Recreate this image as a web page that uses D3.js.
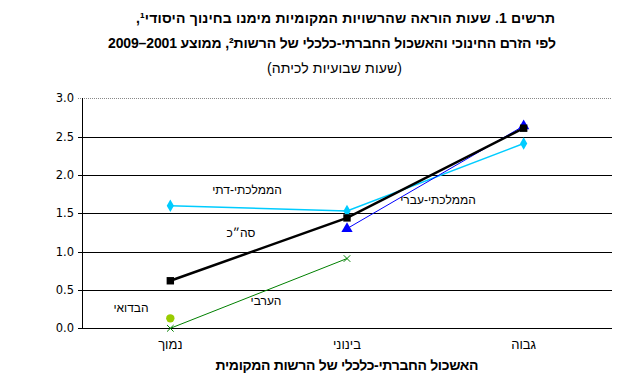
<!DOCTYPE html>
<html><head><meta charset="utf-8">
<script src="https://cdn.jsdelivr.net/npm/d3@7"></script>
<style>body{margin:0;background:#fff}svg{display:block}</style>
</head><body>
<svg id="c" width="635" height="381"></svg>
<script>
const categories = ["נמוך", "בינוני", "גבוה"];
const yTicks = [0, 0.5, 1.0, 1.5, 2.0, 2.5, 3.0];
const seriesNames = ["הממלכתי-דתי", "סה״כ", "הממלכתי-עברי", "הערבי", "הבדואי"];
const dati   = [1.60, 1.53, 2.41];
const total  = [0.62, 1.44, 2.61];
const ivri   = [null, 1.30, 2.64];
const aravi  = [0.00, 0.91, null];
const bedui  = [0.13, null, null];
const titleLines = [
  "תרשים 1. שעות הוראה שהרשויות המקומיות מימנו בחינוך היסודי¹,",
  "לפי הזרם החינוכי והאשכול החברתי-כלכלי של הרשות², ממוצע 2001–2009",
  "(שעות שבועיות לכיתה)"
];
const xTitle = "האשכול החברתי-כלכלי של הרשות המקומית";

const svg = d3.select("#c");
const L = 82, R = 612, T = 98.3, B = 328.3;
const x = d3.scalePoint().domain(categories).range([L, R]).padding(0.5);
const y = d3.scaleLinear().domain([0, 3]).range([B, T]);
const FF = "Liberation Sans, Arial, sans-serif";

// title
const tt = svg.append("g").attr("font-family", FF).attr("direction", "rtl").attr("text-anchor", "middle");
tt.append("text").attr("x", 345.5).attr("y", 23).attr("font-weight", "bold").attr("font-size", 14)
  .attr("textLength", 419).attr("lengthAdjust", "spacing").text(titleLines[0]);
tt.append("text").attr("x", 332).attr("y", 48).attr("font-weight", "bold").attr("font-size", 14)
  .attr("textLength", 448).attr("lengthAdjust", "spacing").text(titleLines[1]);
tt.append("text").attr("x", 334.5).attr("y", 73).attr("font-size", 14)
  .attr("textLength", 135).attr("lengthAdjust", "spacing").text(titleLines[2]);

// gridlines
const g = svg.append("g").attr("shape-rendering", "crispEdges");
g.selectAll("line.grid").data(yTicks).join("line")
  .attr("x1", L - 4).attr("x2", R).attr("y1", d => Math.round(y(d)) + 0.5).attr("y2", d => Math.round(y(d)) + 0.5)
  .attr("stroke", d => d === 3 ? "#888" : "#000")
  .attr("stroke-dasharray", d => d === 3 ? "1,1" : null)
  .attr("stroke-width", 1);
g.append("line").attr("x1", L + 0.5).attr("x2", L + 0.5).attr("y1", Math.round(T)).attr("y2", Math.round(B) + 1).attr("stroke", "#000");

// y tick labels
svg.append("g").selectAll("text").data(yTicks).join("text")
  .attr("x", L - 8).attr("y", d => y(d) + 4)
  .attr("text-anchor", "end").attr("font-family", "DejaVu Sans, sans-serif").attr("font-size", 11.5)
  .text(d => d3.format(".1f")(d));

// x category labels
svg.append("g").selectAll("text").data(categories).join("text")
  .attr("x", d => x(d)).attr("y", 349).attr("text-anchor", "middle").attr("direction", "rtl")
  .attr("font-family", FF).attr("font-size", 13)
  .text(d => d);
svg.append("text").attr("x", 347).attr("y", 370).attr("text-anchor", "middle").attr("direction", "rtl")
  .attr("font-family", FF).attr("font-size", 14).attr("font-weight", "bold")
  .attr("textLength", 263).attr("lengthAdjust", "spacing")
  .text(xTitle);

function pts(vals) { return vals.map((v, i) => ({c: categories[i], v})).filter(p => p.v !== null); }
const line = d3.line().x(p => x(p.c)).y(p => y(p.v));
function drawLine(vals, color, w) {
  svg.append("path").datum(pts(vals)).attr("d", line).attr("fill", "none").attr("stroke", color).attr("stroke-width", w);
}
drawLine(aravi, "#008000", 1);
drawLine(dati, "#00CCFF", 1.5);
drawLine(ivri, "#0000FF", 1);
drawLine(total, "#000000", 2.5);

function markers(vals, sym, size, color, opts = {}) {
  svg.append("g").selectAll("path").data(pts(vals)).join("path")
    .attr("transform", p => `translate(${x(p.c)},${y(p.v)})`)
    .attr("d", d3.symbol().type(sym).size(size))
    .attr("fill", opts.stroke ? "none" : color)
    .attr("stroke", opts.stroke ? color : null)
    .attr("stroke-width", opts.stroke ? 1 : null);
}
markers(dati, d3.symbolDiamond, 45, "#00CCFF");
markers(ivri, d3.symbolTriangle, 55, "#0000FF");
markers(total, d3.symbolSquare, 55, "#000000");
markers(aravi, d3.symbolX, 30, "#008000", {stroke: true});
markers(bedui, d3.symbolCircle, 55, "#99CC00");

// series labels
const labelPos = [[247, 194], [241, 237], [438, 204], [266, 305], [131, 312]];
svg.append("g").selectAll("text").data(seriesNames).join("text")
  .attr("x", (d, i) => labelPos[i][0]).attr("y", (d, i) => labelPos[i][1])
  .attr("text-anchor", "middle").attr("direction", "rtl")
  .attr("font-family", FF).attr("font-size", 12)
  .text(d => d);
</script>
</body></html>
